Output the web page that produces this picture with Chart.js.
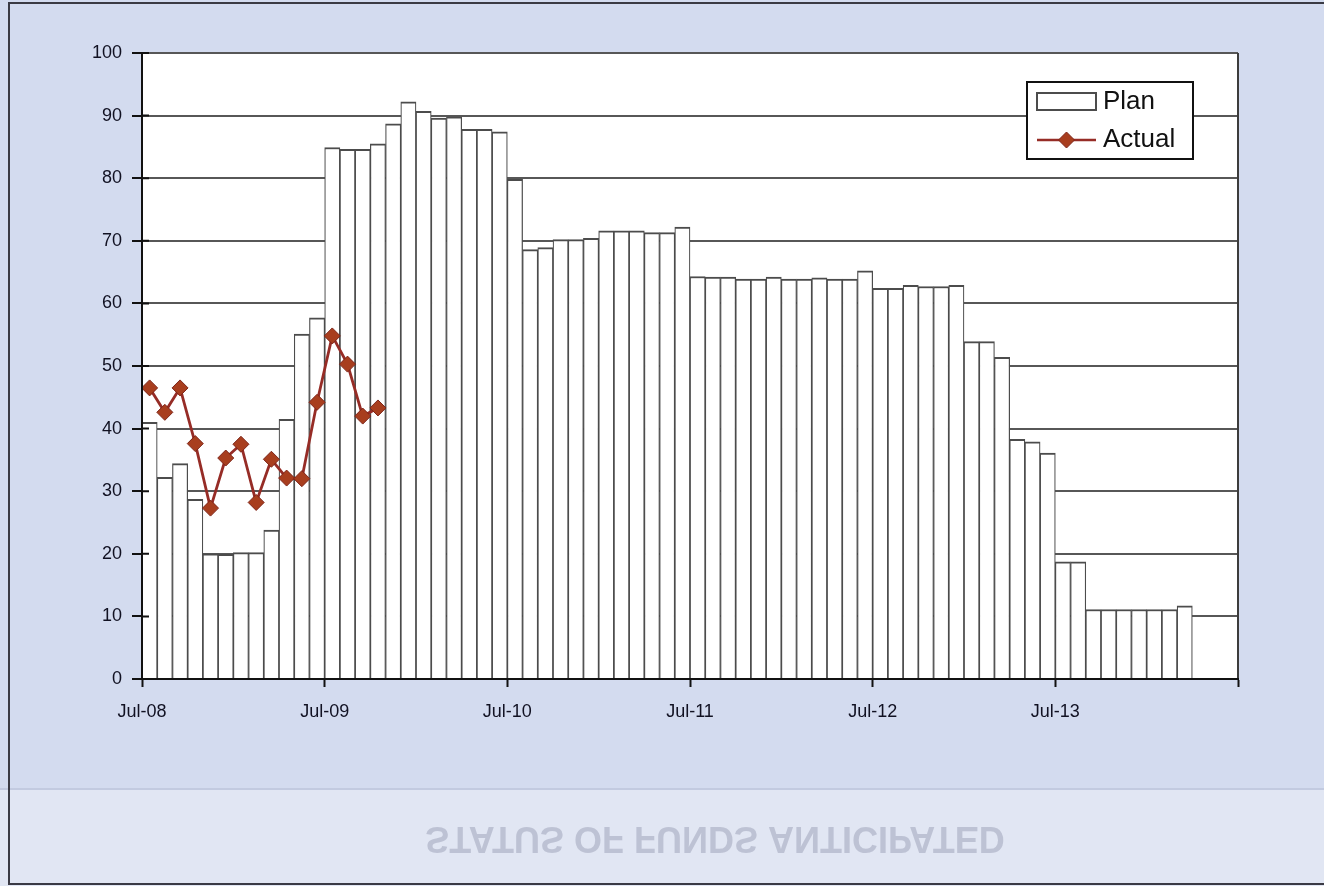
<!DOCTYPE html>
<html>
<head>
<meta charset="utf-8">
<script src="https://cdn.jsdelivr.net/npm/chart.js@4/dist/chart.umd.min.js"></script>
<style>
  html, body { margin: 0; padding: 0; background: #d4dcef; overflow: hidden; }
  canvas { display: block; }
</style>
</head>
<body>
<canvas id="chart" width="1324" height="886"></canvas>
<script>
// Monthly categories, Jul-08 through Jun-14
const months = [
  'Jul-08','Aug-08','Sep-08','Oct-08','Nov-08','Dec-08','Jan-09','Feb-09','Mar-09','Apr-09','May-09','Jun-09',
  'Jul-09','Aug-09','Sep-09','Oct-09','Nov-09','Dec-09','Jan-10','Feb-10','Mar-10','Apr-10','May-10','Jun-10',
  'Jul-10','Aug-10','Sep-10','Oct-10','Nov-10','Dec-10','Jan-11','Feb-11','Mar-11','Apr-11','May-11','Jun-11',
  'Jul-11','Aug-11','Sep-11','Oct-11','Nov-11','Dec-11','Jan-12','Feb-12','Mar-12','Apr-12','May-12','Jun-12',
  'Jul-12','Aug-12','Sep-12','Oct-12','Nov-12','Dec-12','Jan-13','Feb-13','Mar-13','Apr-13','May-13','Jun-13',
  'Jul-13','Aug-13','Sep-13','Oct-13','Nov-13','Dec-13','Jan-14','Feb-14','Mar-14','Apr-14','May-14','Jun-14'
];

// Axis labels shown along the bottom (one per July)
const yearTicks = ['Jul-08', 'Jul-09', 'Jul-10', 'Jul-11', 'Jul-12', 'Jul-13'];

// Planned monthly level
const planValues = [
  41.0, 32.2, 34.4, 28.7, 20.0, 19.9, 20.2, 20.2, 23.8, 41.5, 55.1, 57.7,
  84.9, 84.6, 84.6, 85.5, 88.7, 92.2, 90.7, 89.6, 89.8, 87.8, 87.8, 87.4,
  79.8, 68.6, 68.9, 70.2, 70.2, 70.4, 71.6, 71.6, 71.6, 71.3, 71.3, 72.2,
  64.3, 64.2, 64.2, 63.9, 63.9, 64.2, 63.9, 63.9, 64.1, 63.9, 63.9, 65.2,
  62.4, 62.4, 62.9, 62.7, 62.7, 62.9, 53.9, 53.9, 51.4, 38.3, 37.9, 36.1,
  18.7, 18.7, 11.1, 11.1, 11.1, 11.1, 11.1, 11.1, 11.7
];

// Actual monthly level reported so far
const actualValues = [
  46.5, 42.6, 46.5, 37.6, 27.3, 35.3, 37.5, 28.2, 35.1, 32.1, 32.0, 44.2,
  54.8, 50.3, 42.0, 43.3
];

const seriesNames = ['Plan', 'Actual'];

const planBorder = '#4c4c4c';
const actualLine = '#962c26';
const actualFill = '#a83e1e';
const actualEdge = '#7e2418';
const textColor = '#111122';
const fontFamily = '"Liberation Sans", Arial, sans-serif';

// Each month occupies one unit on a linear axis; a bar is centred in its month.
const planPoints = planValues.map((v, i) => ({ x: i + 0.5, y: v }));
const actualPoints = actualValues.map((v, i) => ({ x: i + 0.5, y: v }));

// Page backdrop, frame and the faint flipped heading showing through the paper
const backdrop = {
  id: 'backdrop',
  beforeDraw(chart) {
    const { ctx, width, height, chartArea: a } = chart;
    ctx.save();
    ctx.fillStyle = '#d3dbef';
    ctx.fillRect(0, 0, width, height);
    ctx.fillStyle = '#e1e6f3';
    ctx.fillRect(0, 790, width, height - 790);
    ctx.strokeStyle = 'rgba(190,198,220,0.8)';
    ctx.lineWidth = 2;
    ctx.beginPath(); ctx.moveTo(0, 789); ctx.lineTo(width, 789); ctx.stroke();

    ctx.save();
    ctx.translate(715, 837);
    ctx.scale(1, -1);
    ctx.font = 'bold 36px ' + fontFamily;
    ctx.fillStyle = 'rgba(140,146,170,0.42)';
    ctx.textAlign = 'center';
    ctx.textBaseline = 'middle';
    ctx.fillText('STATUS OF FUNDS ANTICIPATED', 0, 0);
    ctx.restore();

    ctx.strokeStyle = '#3a3a44';
    ctx.lineWidth = 2;
    ctx.beginPath();
    ctx.moveTo(width, 3); ctx.lineTo(9, 3); ctx.lineTo(9, 884); ctx.lineTo(width, 884);
    ctx.stroke();

    // plot area background
    ctx.fillStyle = '#ffffff';
    ctx.fillRect(a.left, a.top, a.right - a.left, a.bottom - a.top);
    ctx.restore();
  }
};

// Axis lines and inner tick marks redrawn over the bars, plus the legend box
const overlay = {
  id: 'overlay',
  afterDatasetsDraw(chart) {
    const { ctx, chartArea: a, scales } = chart;
    ctx.save();
    ctx.strokeStyle = '#3c3c3c';
    ctx.lineWidth = 2;
    ctx.beginPath();
    ctx.moveTo(a.right, a.top); ctx.lineTo(a.right, a.bottom);
    ctx.stroke();
    ctx.strokeStyle = '#111';
    ctx.beginPath();
    ctx.moveTo(a.left, a.top - 1); ctx.lineTo(a.left, a.bottom);
    ctx.lineTo(a.right + 1, a.bottom);
    ctx.stroke();
    ctx.beginPath();
    scales.y.ticks.forEach(t => {
      const y = scales.y.getPixelForValue(t.value);
      ctx.moveTo(a.left, y); ctx.lineTo(a.left + 7, y);
    });
    ctx.stroke();
    ctx.restore();
  },
  afterDraw(chart) {
    const { ctx } = chart;
    const bx = 1027, by = 82, bw = 166, bh = 77;
    ctx.save();
    ctx.fillStyle = '#ffffff';
    ctx.fillRect(bx, by, bw, bh);
    ctx.strokeStyle = '#111';
    ctx.lineWidth = 2;
    ctx.strokeRect(bx, by, bw, bh);

    // Plan swatch
    ctx.fillStyle = '#ffffff';
    ctx.fillRect(bx + 10, by + 11, 59, 17);
    ctx.strokeStyle = planBorder;
    ctx.lineWidth = 2;
    ctx.strokeRect(bx + 10, by + 11, 59, 17);

    // Actual line + diamond
    const ly = by + 58;
    ctx.strokeStyle = actualLine;
    ctx.lineWidth = 2.5;
    ctx.beginPath(); ctx.moveTo(bx + 10, ly); ctx.lineTo(bx + 69, ly); ctx.stroke();
    const cx = bx + 39.5, r = 8;
    ctx.beginPath();
    ctx.moveTo(cx, ly - r); ctx.lineTo(cx + r, ly); ctx.lineTo(cx, ly + r); ctx.lineTo(cx - r, ly); ctx.closePath();
    ctx.fillStyle = actualFill; ctx.fill();
    ctx.strokeStyle = actualEdge; ctx.lineWidth = 1; ctx.stroke();

    ctx.fillStyle = '#111';
    ctx.font = '26px ' + fontFamily;
    ctx.textAlign = 'left';
    ctx.textBaseline = 'middle';
    ctx.fillText(chart.data.datasets[0].label, bx + 76, by + 20);
    ctx.fillText(chart.data.datasets[1].label, bx + 76, ly);
    ctx.restore();
  }
};

new Chart(document.getElementById('chart'), {
  type: 'bar',
  data: {
    datasets: [
      {
        type: 'bar',
        label: seriesNames[0],
        data: planPoints,
        backgroundColor: '#ffffff',
        borderColor: planBorder,
        borderWidth: { top: 2, left: 1.2, right: 1.2, bottom: 0 },
        borderSkipped: false,
        barPercentage: 1,
        categoryPercentage: 1,
        order: 2
      },
      {
        type: 'line',
        label: seriesNames[1],
        data: actualPoints,
        borderColor: actualLine,
        borderWidth: 2.8,
        tension: 0,
        pointStyle: 'rectRot',
        pointRadius: 8,
        pointBackgroundColor: actualFill,
        pointBorderColor: actualEdge,
        pointBorderWidth: 1,
        order: 1
      }
    ]
  },
  options: {
    responsive: false,
    animation: false,
    devicePixelRatio: 1,
    layout: { padding: { top: 53, right: 86, left: 0, bottom: 0 } },
    plugins: {
      legend: { display: false },
      title: { display: false },
      tooltip: { enabled: false }
    },
    scales: {
      x: {
        type: 'linear',
        min: 0,
        max: months.length,
        offset: false,
        afterFit(scale) { scale.height = 207; },
        grid: {
          offset: false,
          drawOnChartArea: false,
          drawTicks: true,
          tickLength: 8,
          tickColor: '#111',
          tickWidth: 2
        },
        border: { display: true, color: '#111', width: 2 },
        ticks: {
          stepSize: 12,
          autoSkip: false,
          maxRotation: 0,
          padding: 14,
          color: textColor,
          font: { family: fontFamily, size: 18 },
          callback: (value) => {
            const k = value / 12;
            return Number.isInteger(k) && k < yearTicks.length ? yearTicks[k] : '';
          }
        }
      },
      y: {
        min: 0,
        max: 100,
        afterFit(scale) { scale.width = 142; },
        grid: {
          color: '#575757',
          lineWidth: 2,
          drawTicks: true,
          tickLength: 10,
          tickColor: '#111',
          tickWidth: 2
        },
        border: { display: true, color: '#111', width: 2 },
        ticks: {
          stepSize: 10,
          padding: 10,
          color: textColor,
          font: { family: fontFamily, size: 18 }
        }
      }
    }
  },
  plugins: [backdrop, overlay]
});
</script>
</body>
</html>
